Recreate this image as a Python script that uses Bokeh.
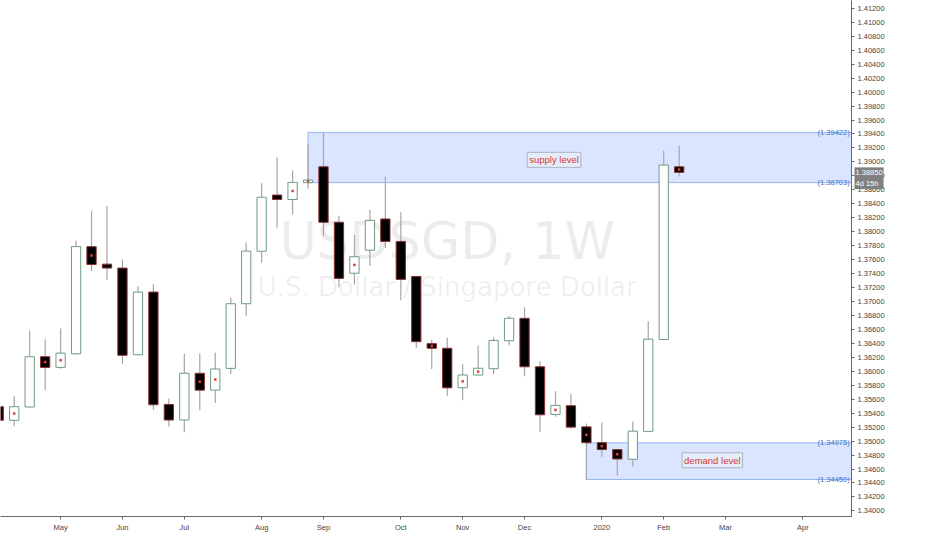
import pandas as pd
from bokeh.plotting import figure
from bokeh.models import (ColumnDataSource, Range1d, FixedTicker, NumeralTickFormatter,
                          CustomJSTickFormatter, BoxAnnotation, Label)
from bokeh.embed import file_html
from bokeh.resources import INLINE

# weekly bars, USDSGD
weeks = pd.date_range("2019-04-08", periods=45, freq="7D")
opens = [1.35493, 1.35298, 1.35489, 1.36209, 1.36056, 1.36251, 1.37786, 1.37535, 1.37479,
         1.36237, 1.37135, 1.35525, 1.35302, 1.35972, 1.35730, 1.36042, 1.36968, 1.37720,
         1.38525, 1.38461, 1.38702, 1.38930, 1.38135, 1.37405, 1.37735, 1.38182, 1.37861,
         1.37359, 1.36396, 1.36330, 1.35765, 1.35947, 1.36037, 1.36438, 1.36759, 1.36065,
         1.35382, 1.35507, 1.35204, 1.34977, 1.34879, 1.34740, 1.35140, 1.36455, 1.38930]
highs = [1.35535, 1.35647, 1.36582, 1.36456, 1.36614, 1.37869, 1.38302, 1.38368, 1.37600,
         1.37219, 1.37251, 1.35609, 1.36251, 1.36256, 1.36265, 1.37052, 1.37847, 1.38693,
         1.39065, 1.38880, 1.39251, 1.39422, 1.38228, 1.37953, 1.38312, 1.38790, 1.38280,
         1.37370, 1.36452, 1.36484, 1.36103, 1.36368, 1.36488, 1.36791, 1.36916, 1.36149,
         1.35716, 1.35679, 1.35252, 1.35266, 1.34885, 1.35280, 1.36717, 1.39163, 1.39233]
lows = [1.35256, 1.35214, 1.35480, 1.35730, 1.36037, 1.36240, 1.37437, 1.37311, 1.36103,
        1.36230, 1.35451, 1.35210, 1.35126, 1.35442, 1.35545, 1.35963, 1.36791, 1.37554,
        1.38056, 1.38242, 1.38615, 1.37939, 1.37205, 1.37242, 1.37507, 1.37768, 1.37018,
        1.36335, 1.36033, 1.35647, 1.35587, 1.35940, 1.35963, 1.36368, 1.35930, 1.35135,
        1.35350, 1.35182, 1.34450, 1.34777, 1.34507, 1.34638, 1.35135, 1.36450, 1.38790]
closes = [1.35298, 1.35493, 1.36209, 1.36056, 1.36261, 1.37786, 1.37530, 1.37479, 1.36229,
          1.37135, 1.35521, 1.35302, 1.35972, 1.35730, 1.36033, 1.36968, 1.37722, 1.38493,
          1.38461, 1.38707, 1.38740, 1.38135, 1.37331, 1.37642, 1.38162, 1.37861, 1.37317,
          1.36424, 1.36330, 1.35763, 1.35947, 1.36044, 1.36442, 1.36759, 1.36065, 1.35377,
          1.35511, 1.35200, 1.34977, 1.34879, 1.34744, 1.35142, 1.36460, 1.38954, 1.38850]
# bars carrying the small red marker
dot_weeks = ["2019-04-15", "2019-04-29", "2019-05-06", "2019-05-20", "2019-07-08",
             "2019-07-15", "2019-08-19", "2019-08-26", "2019-09-16", "2019-10-21",
             "2019-11-04", "2019-11-11", "2019-12-16", "2019-12-30", "2020-01-06",
             "2020-01-13", "2020-02-10"]

month_ticks = ["2019-05-06", "2019-06-03", "2019-07-01", "2019-08-05", "2019-09-02",
               "2019-10-07", "2019-11-04", "2019-12-02", "2020-01-06", "2020-02-03",
               "2020-03-02", "2020-04-06", "2020-05-04"]
month_labels = ["May", "Jun", "Jul", "Aug", "Sep", "Oct", "Nov", "Dec", "2020", "Feb",
                "Mar", "Apr", "May"]
price_ticks = [round(1.340 + 0.002 * i, 3) for i in range(37)]

supply_low, supply_high, supply_start = 1.38703, 1.39422, "2019-08-26"
demand_low, demand_high, demand_start = 1.34450, 1.34975, "2019-12-30"
last_price = 1.38850
countdown = "4d 15h"

df = pd.DataFrame(dict(week=weeks, open=opens, high=highs, low=lows, close=closes))
df["top"] = df[["open", "close"]].max(axis=1)
df["bottom"] = df[["open", "close"]].min(axis=1)
df["mid"] = (df["open"] + df["close"]) / 2
up = ColumnDataSource(df[df.close >= df.open])
down = ColumnDataSource(df[df.close < df.open])
dots = ColumnDataSource(df[df.week.isin(pd.to_datetime(dot_weeks))])

x_end = pd.Timestamp("2020-04-28")
p = figure(width=916, height=534, x_axis_type="datetime", y_axis_location="right",
           x_range=Range1d(pd.Timestamp("2019-04-08 19:00"), x_end),
           y_range=Range1d(1.3392, 1.41312),
           toolbar_location=None, output_backend="svg",
           min_border_left=0, min_border_top=0, min_border_right=0, min_border_bottom=0)
p.outline_line_color = None
p.grid.visible = False
p.background_fill_color = "white"

# supply / demand zones
for lo, hi, start in [(supply_low, supply_high, supply_start), (demand_low, demand_high, demand_start)]:
    p.add_layout(BoxAnnotation(left=pd.Timestamp(start), bottom=lo, top=hi,
                               fill_color="#2962ff", fill_alpha=0.17,
                               line_color="#7fa6ee", line_width=1, line_alpha=0.8,
                               level="underlay"))

# watermark
wm_font = "DejaVu Sans"
font = "Liberation Sans"
p.add_layout(Label(x=pd.Timestamp("2019-10-28"), y=1.37865, text="USDSGD, 1W",
                   text_align="center", text_baseline="middle", text_font=wm_font,
                   text_font_size="51px", text_color="#000000", text_alpha=0.075,
                   level="underlay"))
p.add_layout(Label(x=pd.Timestamp("2019-10-28"), y=1.37209, text="U.S. Dollar / Singapore Dollar",
                   text_align="center", text_baseline="middle", text_font=wm_font,
                   text_font_size="26px", text_color="#000000", text_alpha=0.075,
                   level="underlay"))

bar_w = 7 * 24 * 3600 * 1000 * 0.6
p.segment("week", "high", "week", "low", source=up, color="#a6a6a6", line_width=1.2)
p.segment("week", "high", "week", "low", source=down, color="#a6a6a6", line_width=1.2)
p.vbar("week", bar_w, "top", "bottom", source=up, fill_color="white",
       line_color="#6f9a86", line_width=1)
p.vbar("week", bar_w, "top", "bottom", source=down, fill_color="black",
       line_color="#8a3030", line_width=1)
p.scatter("week", "mid", source=dots, marker="square", size=2.5,
          color="#e0403a", line_width=0)

# zone price tags
for v in [supply_high, supply_low, demand_high, demand_low]:
    p.add_layout(Label(x=x_end - pd.Timedelta(hours=20), y=v, text=f"({v:.5f})",
                       text_align="right", text_baseline="middle", text_font=font,
                       text_font_size="7.5px", text_color="#3f70c8"))

p.add_layout(Label(x=pd.Timestamp("2019-12-15 08:00"), y=1.39029, text="supply level",
                   text_align="center", text_baseline="middle", text_font=font,
                   text_font_size="9.5px", text_color="#d03a32",
                   background_fill_color="#e6edf9", border_line_color="#aab4c4",
                   padding=2))
p.add_layout(Label(x=pd.Timestamp("2020-02-25"), y=1.34726, text="demand level",
                   text_align="center", text_baseline="middle", text_font=font,
                   text_font_size="9.5px", text_color="#d03a32",
                   background_fill_color="#e6edf9", border_line_color="#aab4c4",
                   padding=2))

ya = p.yaxis[0]
ya.ticker = FixedTicker(ticks=price_ticks)
ya.formatter = NumeralTickFormatter(format="0.00000")
ya.minor_tick_line_color = None

xa = p.xaxis[0]
xa.ticker = FixedTicker(ticks=[pd.Timestamp(d).value / 1e6 for d in month_ticks])
xa.formatter = CustomJSTickFormatter(
    args=dict(vals=[pd.Timestamp(d).value / 1e6 for d in month_ticks], labels=month_labels),
    code="const i = vals.findIndex(v => Math.abs(v - tick) < 86400000); return i >= 0 ? labels[i] : '';")
xa.minor_tick_line_color = None

for ax in [xa, ya]:
    ax.axis_line_color = "#6a6a6a"
    ax.major_tick_line_color = "#6a6a6a"
    ax.major_tick_in = 0
    ax.major_tick_out = 3
    ax.major_label_standoff = 3
    ax.major_label_text_font = font
    ax.major_label_text_font_size = "7.5px"
    ax.major_label_text_color = "#444444"

# last price tag with bar countdown, drawn over the price axis (side panels are not clipped)
p.add_layout(Label(x=-33, x_units="screen", y=last_price, y_offset=5,
                   text=f"{last_price:.5f}\n{countdown}",
                   text_align="left", text_baseline="top", text_font=font,
                   text_font_size="7.5px", text_color="white",
                   background_fill_color="#808080", padding=1), "right")

open("out.html", "w").write(file_html(p, INLINE))
